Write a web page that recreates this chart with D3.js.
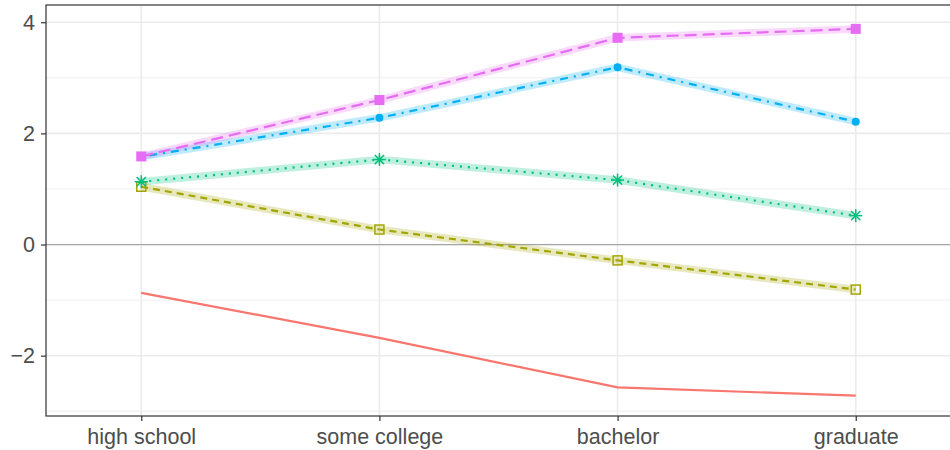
<!DOCTYPE html>
<html>
<head>
<meta charset="utf-8">
<script src="https://cdn.jsdelivr.net/npm/d3@7"></script>
<style>
  html, body { margin: 0; padding: 0; background: #fff; }
  svg { display: block; font-family: "Liberation Sans", Arial, sans-serif; }
</style>
</head>
<body>
<script>
// 범주 (x축)
const categories = ['high school', 'some college', 'bachelor', 'graduate'];
// 시리즈 값
const seriesRed = [-0.87, -1.68, -2.57, -2.72];
const seriesOlive = [1.04, 0.27, -0.285, -0.81];
const seriesGreen = [1.13, 1.53, 1.16, 0.52];
const seriesBlue = [1.58, 2.28, 3.19, 2.21];
const seriesPink = [1.585, 2.6, 3.72, 3.88];
// y축 눈금
const yTicks = [-2, 0, 2, 4];
const yMinor = [-3, -1, 1, 3];

const width = 950, height = 450;
const trbl = {top: 5, right: -1, bottom: 34, left: 46};

const svg = d3.select(document.body).append('svg')
  .attr('width', width).attr('height', height);

const x = d3.scaleLinear()
  .domain([-0.4, categories.length - 1 + 0.4])
  .range([trbl.left, width - trbl.right]);
const y = d3.scaleLinear()
  .domain([-3.085, 4.31])
  .range([height - trbl.bottom, trbl.top]);

// 패널 격자
const grid = svg.append('g');
grid.selectAll('line.minor').data(yMinor).join('line')
  .attr('x1', trbl.left).attr('x2', width)
  .attr('y1', d => y(d)).attr('y2', d => y(d))
  .attr('stroke', '#ebebeb').attr('stroke-width', 0.8);
grid.selectAll('line.major').data(yTicks).join('line')
  .attr('x1', trbl.left).attr('x2', width)
  .attr('y1', d => y(d)).attr('y2', d => y(d))
  .attr('stroke', '#ebebeb').attr('stroke-width', 1.6);
grid.selectAll('line.vmajor').data(categories).join('line')
  .attr('x1', (d, i) => x(i)).attr('x2', (d, i) => x(i))
  .attr('y1', trbl.top).attr('y2', height - trbl.bottom)
  .attr('stroke', '#ebebeb').attr('stroke-width', 1.6);

// 0 기준선
svg.append('line')
  .attr('x1', trbl.left).attr('x2', width)
  .attr('y1', y(0)).attr('y2', y(0))
  .attr('stroke', '#a6a6a6').attr('stroke-width', 1.3);

const series = [
  {values: seriesRed, color: '#F8766D', dash: null, band: false, shape: null},
  {values: seriesOlive, color: '#A3A500', dash: '7,5', band: true, shape: 'open'},
  {values: seriesGreen, color: '#00BF7D', dash: '2,6', band: true, shape: 'star'},
  {values: seriesBlue, color: '#00B0F6', dash: '2,6,8,6', band: true, shape: 'circle'},
  {values: seriesPink, color: '#E76BF3', dash: '12,6', band: true, shape: 'square'}
];

const line = d3.line().x((d, i) => x(i)).y(d => y(d));

const marks = svg.append('g');
series.forEach(s => {
  if (s.band) {
    marks.append('path').attr('d', line(s.values))
      .attr('fill', 'none').attr('stroke', s.color)
      .attr('stroke-opacity', 0.25).attr('stroke-width', 7.5);
  }
});
series.forEach(s => {
  marks.append('path').attr('d', line(s.values))
    .attr('fill', 'none').attr('stroke', s.color)
    .attr('stroke-width', 2.2)
    .attr('stroke-dasharray', s.dash);
  const g = marks.append('g');
  s.values.forEach((v, i) => {
    const cx = x(i), cy = y(v);
    if (s.shape === 'open') {
      g.append('rect').attr('x', cx - 4.5).attr('y', cy - 4.5)
        .attr('width', 9).attr('height', 9)
        .attr('fill', 'none').attr('stroke', s.color).attr('stroke-width', 1.5);
    } else if (s.shape === 'square') {
      g.append('rect').attr('x', cx - 5).attr('y', cy - 5)
        .attr('width', 10).attr('height', 10).attr('fill', s.color);
    } else if (s.shape === 'circle') {
      g.append('circle').attr('cx', cx).attr('cy', cy).attr('r', 4)
        .attr('fill', s.color);
    } else if (s.shape === 'star') {
      const r = 6.5;
      [0, 45, 90, 135].forEach(a => {
        const rad = a * Math.PI / 180;
        g.append('line')
          .attr('x1', cx - r * Math.cos(rad)).attr('y1', cy - r * Math.sin(rad))
          .attr('x2', cx + r * Math.cos(rad)).attr('y2', cy + r * Math.sin(rad))
          .attr('stroke', s.color).attr('stroke-width', 1.5);
      });
    }
  });
});

// 패널 테두리
svg.append('rect')
  .attr('x', trbl.left).attr('y', trbl.top)
  .attr('width', width - trbl.right - trbl.left)
  .attr('height', height - trbl.bottom - trbl.top)
  .attr('fill', 'none').attr('stroke', '#333').attr('stroke-width', 1.2);

// Y축
const yAxis = d3.axisLeft(y).tickValues(yTicks).tickSize(5).tickPadding(6)
  .tickFormat(d => d < 0 ? '\u2212' + Math.abs(d) : d);
const gy = svg.append('g')
  .attr('transform', `translate(${trbl.left}, 0)`)
  .call(yAxis);
// X축
const xAxis = d3.axisBottom(x).tickValues(d3.range(categories.length))
  .tickSize(5).tickPadding(8).tickFormat(i => categories[i]);
const gx = svg.append('g')
  .attr('transform', `translate(0, ${height - trbl.bottom})`)
  .call(xAxis);

[gx, gy].forEach(g => {
  g.select('.domain').remove();
  g.selectAll('.tick line').attr('stroke', '#333').attr('stroke-width', 1.2);
  g.selectAll('.tick text').attr('fill', '#4d4d4d')
    .style('font-size', '21.5px');
});
</script>
</body>
</html>
